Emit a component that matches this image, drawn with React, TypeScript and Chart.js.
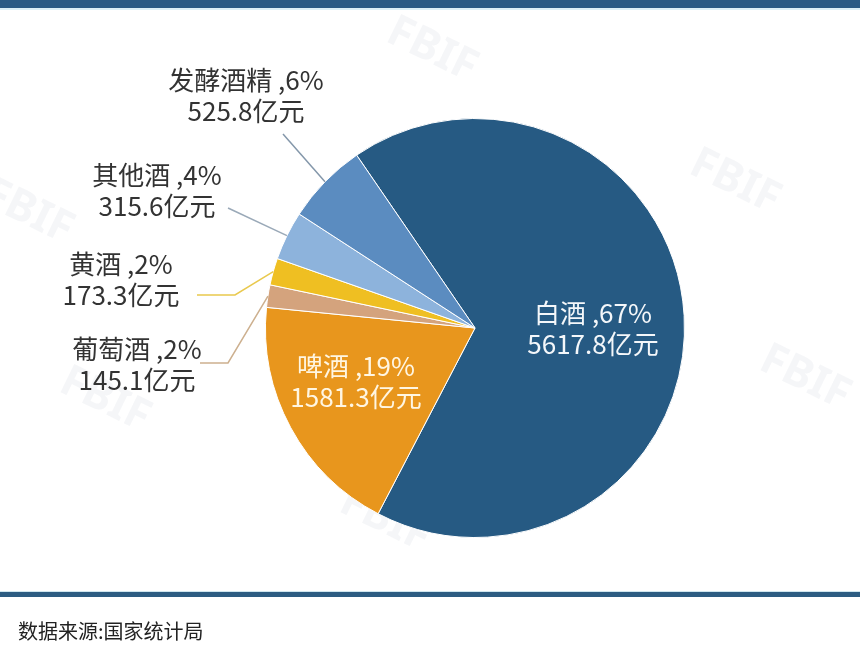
import React, { useEffect, useRef } from "react";
import { Chart, registerables } from "chart.js";

Chart.register(...registerables);

const categories = ["白酒", "啤酒", "葡萄酒", "黄酒", "其他酒", "发酵酒精"];
const values = [5617.8, 1581.3, 145.1, 173.3, 315.6, 525.8];
const unit = "亿元";
const sourceText = "数据来源:国家统计局";
const watermark = "FBIF";

const colors = ["#265a83", "#e8961d", "#d4a37d", "#efbf22", "#8db3dc", "#5b8cc0"];
const lineColors = ["", "", "#cdb08f", "#e9c94e", "#9aa9b8", "#8497aa"];

// label layout (text anchors; leader lines run from anchor to the slice's mid-angle on the rim)
type Lay = { x: number; y: number; color: string; lx?: number; ly?: number; elbowX?: number };
const layout: Lay[] = [
  { x: 593, y: 329, color: "#f4f7fa" },
  { x: 356, y: 382, color: "#fff6e2" },
  { x: 137, y: 365, color: "#333333", lx: 200, ly: 363, elbowX: 228 },
  { x: 121, y: 280, color: "#333333", lx: 197, ly: 295, elbowX: 235 },
  { x: 157, y: 191, color: "#333333", lx: 228, ly: 208 },
  { x: 246, y: 96, color: "#333333", lx: 283, ly: 134 },
];
const watermarkSpots = [
  [432, 50],
  [735, 182],
  [28, 212],
  [805, 378],
  [105, 400],
  [385, 520],
];

const FONT = "26px 'Noto Sans CJK SC', 'Noto Sans', sans-serif";

const labelPlugin = {
  id: "pieLabels",
  beforeDraw(chart: any) {
    const ctx = chart.ctx as CanvasRenderingContext2D;
    ctx.save();
    ctx.font = "bold 44px 'Noto Sans', sans-serif";
    ctx.textAlign = "center";
    ctx.textBaseline = "middle";
    ctx.fillStyle = "rgba(205,212,218,0.2)";
    watermarkSpots.forEach(([x, y]) => {
      ctx.save();
      ctx.translate(x, y);
      ctx.rotate((26 * Math.PI) / 180);
      ctx.fillText(watermark, 0, 0);
      ctx.restore();
    });
    ctx.restore();
  },
  afterDatasetsDraw(chart: any) {
    const ctx = chart.ctx as CanvasRenderingContext2D;
    const meta = chart.getDatasetMeta(0);
    const data = chart.data.datasets[0].data as number[];
    const total = data.reduce((a, b) => a + b, 0);
    ctx.save();
    ctx.font = FONT;
    ctx.textAlign = "center";
    ctx.textBaseline = "middle";
    meta.data.forEach((arc: any, i: number) => {
      const { x: cx, y: cy, startAngle, endAngle, outerRadius } = arc.getProps(
        ["x", "y", "startAngle", "endAngle", "outerRadius"],
        true
      );
      const mid = (startAngle + endAngle) / 2;
      const pct = Math.round((data[i] / total) * 100);
      const l1 = `${chart.data.labels[i]} ,${pct}%`;
      const l2 = `${data[i].toFixed(1)}${unit}`;
      const lay = layout[i];
      if (lay.lx !== undefined && lay.ly !== undefined) {
        const ex = cx + Math.cos(mid) * outerRadius;
        const ey = cy + Math.sin(mid) * outerRadius;
        ctx.strokeStyle = lineColors[i];
        ctx.lineWidth = 1.5;
        ctx.beginPath();
        ctx.moveTo(lay.lx, lay.ly);
        if (lay.elbowX !== undefined) ctx.lineTo(lay.elbowX, lay.ly);
        ctx.lineTo(ex, ey);
        ctx.stroke();
      }
      ctx.fillStyle = lay.color;
      ctx.fillText(l1, lay.x, lay.y - 15.5);
      ctx.fillText(l2, lay.x, lay.y + 15.5);
    });
    ctx.restore();
  },
};

export default function App() {
  const ref = useRef<HTMLCanvasElement>(null);
  useEffect(() => {
    document.body.style.margin = "0";
    const chart = new Chart(ref.current!, {
      type: "pie",
      data: {
        labels: categories,
        datasets: [
          {
            data: values,
            backgroundColor: colors,
            borderColor: "#ffffff",
            borderWidth: 1,
          },
        ],
      },
      options: {
        responsive: false,
        animation: false,
        rotation: -34.4,
        layout: { padding: { left: 265, right: 175, top: 118, bottom: 107 } },
        plugins: {
          legend: { display: false },
          tooltip: { enabled: false },
          title: { display: false },
        },
      },
      plugins: [labelPlugin],
    });
    return () => chart.destroy();
  }, []);
  return (
    <div style={{ position: "relative", width: 860, height: 645, background: "#ffffff", overflow: "hidden" }}>
      <canvas ref={ref} width={860} height={645} style={{ position: "absolute", left: 0, top: 0 }} />
      <div style={{ position: "absolute", left: 0, top: 0, width: 860, height: 8, background: "#2a5b84" }} />
      <div style={{ position: "absolute", left: 0, top: 8, width: 860, height: 2, background: "#dcf0f6" }} />
      <div style={{ position: "absolute", left: 0, top: 591, width: 860, height: 1, background: "#cfe6ee" }} />
      <div style={{ position: "absolute", left: 0, top: 592, width: 860, height: 5, background: "#2d5c82" }} />
      <div
        style={{
          position: "absolute",
          left: 18,
          top: 617,
          fontFamily: "'Noto Sans CJK SC', sans-serif",
          fontSize: 20,
          lineHeight: "28px",
          color: "#222222",
          whiteSpace: "nowrap",
        }}
      >
        {sourceText}
      </div>
    </div>
  );
}
